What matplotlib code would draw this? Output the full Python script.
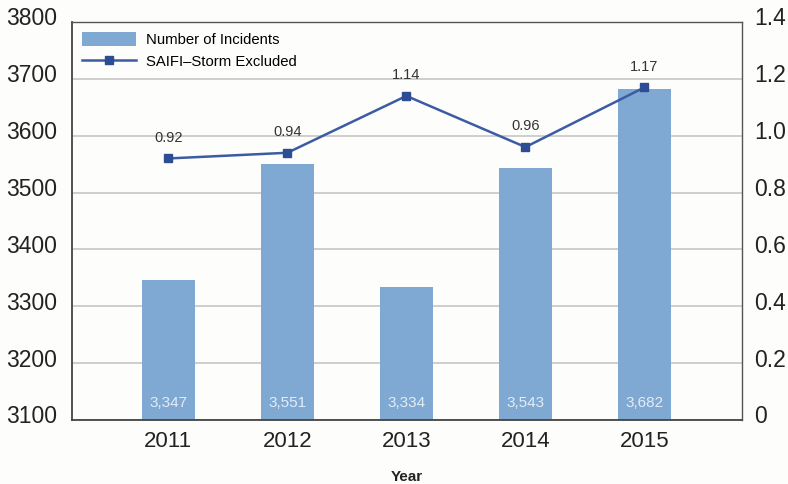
import matplotlib.pyplot as plt
import matplotlib.transforms as mtransforms
from matplotlib.lines import Line2D
from matplotlib.patches import Patch

plt.rcParams['font.family'] = ['Liberation Sans', 'DejaVu Sans']

years = ['2011', '2012', '2013', '2014', '2015']
incidents = [3347, 3551, 3334, 3543, 3682]
saifi = [0.92, 0.94, 1.14, 0.96, 1.17]
left_ticks = [3100, 3200, 3300, 3400, 3500, 3600, 3700, 3800]
right_ticks = [0, 0.2, 0.4, 0.6, 0.8, 1.0, 1.2, 1.4]
right_labels = ['0', '0.2', '0.4', '0.6', '0.8', '1.0', '1.2', '1.4']

bar_color = '#7fa9d3'
line_color = '#3b5ca3'
bg = '#fdfdfb'

fig = plt.figure(figsize=(7.88, 4.84), dpi=100, facecolor=bg)
ax = fig.add_axes([72 / 788, 1 - 420 / 484, 670 / 788, 398 / 484])
ax.set_facecolor(bg)
x = list(range(len(years)))

ax.bar(x, [v - 3100 for v in incidents], bottom=3100, width=0.44,
       color=bar_color, zorder=2)
ax.set_ylim(3100, 3800)
ax.set_xlim(-0.81, 4.82)
ax.set_yticks(left_ticks)
ax.set_yticklabels([str(t) for t in left_ticks], fontsize=16.5, color='#222222')
ax.set_xticks(x)
ax.set_xticklabels(years, fontsize=16, color='#222222')
ax.tick_params(axis='both', length=0)
ax.tick_params(axis='y', pad=11)
ax.tick_params(axis='x', pad=8)
ax.grid(axis='y', color='#c6c6c6', linewidth=1.2, zorder=0)
ax.set_axisbelow(True)
for side in ['left', 'bottom']:
    ax.spines[side].set_color('#444444')
    ax.spines[side].set_linewidth(1.3)
for side in ['top', 'right']:
    ax.spines[side].set_color('#555555')
    ax.spines[side].set_linewidth(1.0)

ax.set_xlabel('Year', fontsize=11, fontweight='bold', labelpad=13, color='#222222')

for xi, v in zip(x, incidents):
    ax.annotate(f'{v:,}', (xi, 3100), xytext=(0, 12), textcoords='offset points',
                ha='center', va='center', fontsize=11, color='#e3ecf6', zorder=3)

ax2 = ax.twinx()
ax2.plot(x, saifi, color=line_color, linewidth=1.8, marker='s', markersize=5.5,
         markerfacecolor='#2c4d93', markeredgecolor='#2c4d93', zorder=4)
ax2.set_ylim(0, 1.4)
ax2.set_yticks(right_ticks)
ax2.set_yticklabels(right_labels, fontsize=16.5, color='#222222')
ax2.tick_params(axis='y', length=0, pad=9)
for sp in ax2.spines.values():
    sp.set_visible(False)

for xi, v in zip(x, saifi):
    ax2.annotate(f'{v:.2f}', (xi, v), xytext=(0, 15), textcoords='offset points',
                 ha='center', va='center', fontsize=10.5, color='#333333')

# lift the y tick labels a little above their gridlines
lift = mtransforms.ScaledTranslation(0, 4 / 72, fig.dpi_scale_trans)
for lab in ax.get_yticklabels() + ax2.get_yticklabels():
    lab.set_transform(lab.get_transform() + lift)

handles = [Patch(facecolor=bar_color, edgecolor='none'),
           Line2D([0], [0], color=line_color, linewidth=1.8, marker='s', markersize=5.5,
                  markerfacecolor='#2c4d93', markeredgecolor='#2c4d93')]
ax2.legend(handles, ['Number of Incidents', 'SAIFI\u2013Storm Excluded'],
           loc='upper left', bbox_to_anchor=(0.0, 1.0), frameon=False,
           fontsize=10.7, handlelength=3.6, handleheight=1.0, labelspacing=0.5,
           borderaxespad=0.3, handletextpad=0.7)

fig.savefig('out.png', dpi=100, facecolor=bg)
